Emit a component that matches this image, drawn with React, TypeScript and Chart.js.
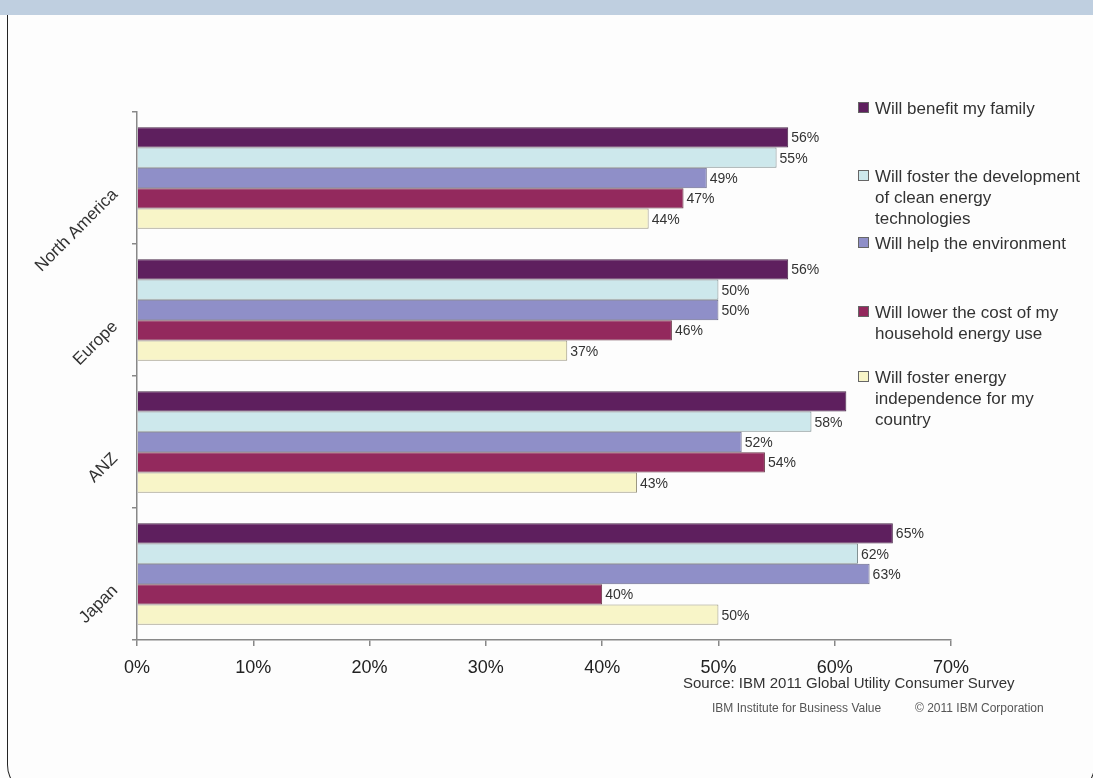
import React, { useEffect, useRef } from "react";
import { Chart, registerables } from "chart.js";

Chart.register(...registerables);

const categories = ["North America", "Europe", "ANZ", "Japan"];
const seriesNames = [
  "Will benefit my family",
  "Will foster the development of clean energy technologies",
  "Will help the environment",
  "Will lower the cost of my household energy use",
  "Will foster energy independence for my country",
];
const benefitFamily = [56, 56, 61, 65];
const cleanEnergy = [55, 50, 58, 62];
const helpEnvironment = [49, 50, 52, 63];
const lowerCost = [47, 46, 54, 40];
const energyIndependence = [44, 37, 43, 50];
const xTickMax = 70;
const xTickStep = 10;

const legendLines = [
  ["Will benefit my family"],
  ["Will foster the development", "of clean energy", "technologies"],
  ["Will help the environment"],
  ["Will lower the cost of my", "household energy use"],
  ["Will foster energy", "independence for my", "country"],
];
const sourceText = "Source: IBM 2011 Global Utility Consumer Survey";
const footerLeft = "IBM Institute for Business Value";
const footerRight = "\u00A9 2011 IBM Corporation";

const colors = ["#5e1f5e", "#cde8ec", "#8f8fc8", "#93295d", "#f8f5c8"];
const borders = ["#4a2a4a", "#7a8a8c", "#6a6a8a", "#6a3a4a", "#9a9680"];
const seriesValues = [benefitFamily, cleanEnergy, helpEnvironment, lowerCost, energyIndependence];

const FONT = "Arial, 'Liberation Sans', sans-serif";
const BG = "#fdfdfd";

const overlayPlugin = {
  id: "overlay",
  afterDraw(chart: any) {
    const ctx = chart.ctx;
    ctx.save();
    // value labels
    ctx.font = `14px ${FONT}`;
    ctx.fillStyle = "#333";
    ctx.textAlign = "left";
    ctx.textBaseline = "middle";
    chart.data.datasets.forEach((ds: any, di: number) => {
      const meta = chart.getDatasetMeta(di);
      meta.data.forEach((bar: any, i: number) => {
        ctx.fillText(ds.data[i] + "%", bar.x + 3, bar.y + 1);
      });
    });
    // category labels (rotated)
    const yScale = chart.scales.y;
    ctx.font = `17px ${FONT}`;
    ctx.textAlign = "right";
    categories.forEach((c, i) => {
      const y = yScale.getPixelForValue(i);
      ctx.save();
      ctx.translate(yScale.right - 22, y + 14);
      ctx.rotate(-Math.PI / 4);
      ctx.fillText(c, 0, 0);
      ctx.restore();
    });
    // legend
    ctx.fillStyle = BG;
    ctx.fillRect(850, 92, 240, 340);
    const firstY = [108, 176, 243, 312, 377];
    ctx.font = `17px ${FONT}`;
    ctx.textAlign = "left";
    legendLines.forEach((lines, i) => {
      const y0 = firstY[i];
      ctx.fillStyle = colors[i];
      ctx.fillRect(858.5, y0 - 5.5, 10, 10);
      ctx.strokeStyle = "#666";
      ctx.lineWidth = 1;
      ctx.strokeRect(858.5, y0 - 5.5, 10, 10);
      ctx.fillStyle = "#333";
      lines.forEach((l, k) => ctx.fillText(l, 875, y0 + 1 + k * 21));
    });
    ctx.restore();
  },
};

export default function App() {
  const ref = useRef<HTMLCanvasElement>(null);
  useEffect(() => {
    const chart = new Chart(ref.current as HTMLCanvasElement, {
      type: "bar",
      data: {
        labels: categories,
        datasets: seriesValues.map((vals, i) => ({
          label: seriesNames[i],
          data: vals,
          backgroundColor: colors[i],
          borderColor: borders[i],
          borderWidth: 1,
          categoryPercentage: 0.77,
          barPercentage: 1,
        })),
      },
      options: {
        indexAxis: "y",
        animation: false,
        responsive: false,
        events: [],
        layout: { padding: { top: 112, right: 142, left: 0, bottom: 0 } },
        plugins: { legend: { display: false }, tooltip: { enabled: false } },
        scales: {
          x: {
            min: 0,
            max: xTickMax,
            ticks: {
              stepSize: xTickStep,
              callback: (v: any) => v + "%",
              color: "#222",
              font: { family: FONT, size: 18 },
              padding: 11,
            },
            grid: { drawOnChartArea: false, tickLength: 6, color: "#888", lineWidth: 1.5 },
            border: { color: "#888", width: 1.5 },
            afterFit: (s: any) => {
              s.height = 138;
            },
          },
          y: {
            ticks: { display: false },
            grid: { drawOnChartArea: false, tickLength: 5, color: "#888", lineWidth: 1.5, offset: true },
            border: { color: "#888", width: 1.5 },
            afterFit: (s: any) => {
              s.width = 137;
            },
          },
        },
      },
      plugins: [overlayPlugin],
    } as any);
    return () => chart.destroy();
  }, []);

  return (
    <div
      style={{
        position: "fixed",
        left: 0,
        top: 0,
        width: 1093,
        height: 778,
        overflow: "hidden",
        background: BG,
        fontFamily: FONT,
      }}
    >
      <div style={{ position: "absolute", left: 0, top: 0, width: 1093, height: 15, background: "#bfcfe0" }} />
      <div
        style={{
          position: "absolute",
          left: 7,
          top: 15,
          width: 1088,
          height: 780,
          boxSizing: "border-box",
          border: "1.5px solid #222",
          borderTop: "none",
          borderRadius: "0 0 30px 30px",
        }}
      />
      <canvas ref={ref} width={1093} height={778} style={{ position: "absolute", left: 0, top: 0 }} />
      <div style={{ position: "absolute", left: 683, top: 674, fontSize: 15, color: "#333", whiteSpace: "nowrap" }}>
        {sourceText}
      </div>
      <div style={{ position: "absolute", left: 712, top: 701, fontSize: 12, color: "#555", whiteSpace: "nowrap" }}>
        {footerLeft}
      </div>
      <div style={{ position: "absolute", left: 915, top: 701, fontSize: 12, color: "#555", whiteSpace: "nowrap" }}>
        {footerRight}
      </div>
    </div>
  );
}
